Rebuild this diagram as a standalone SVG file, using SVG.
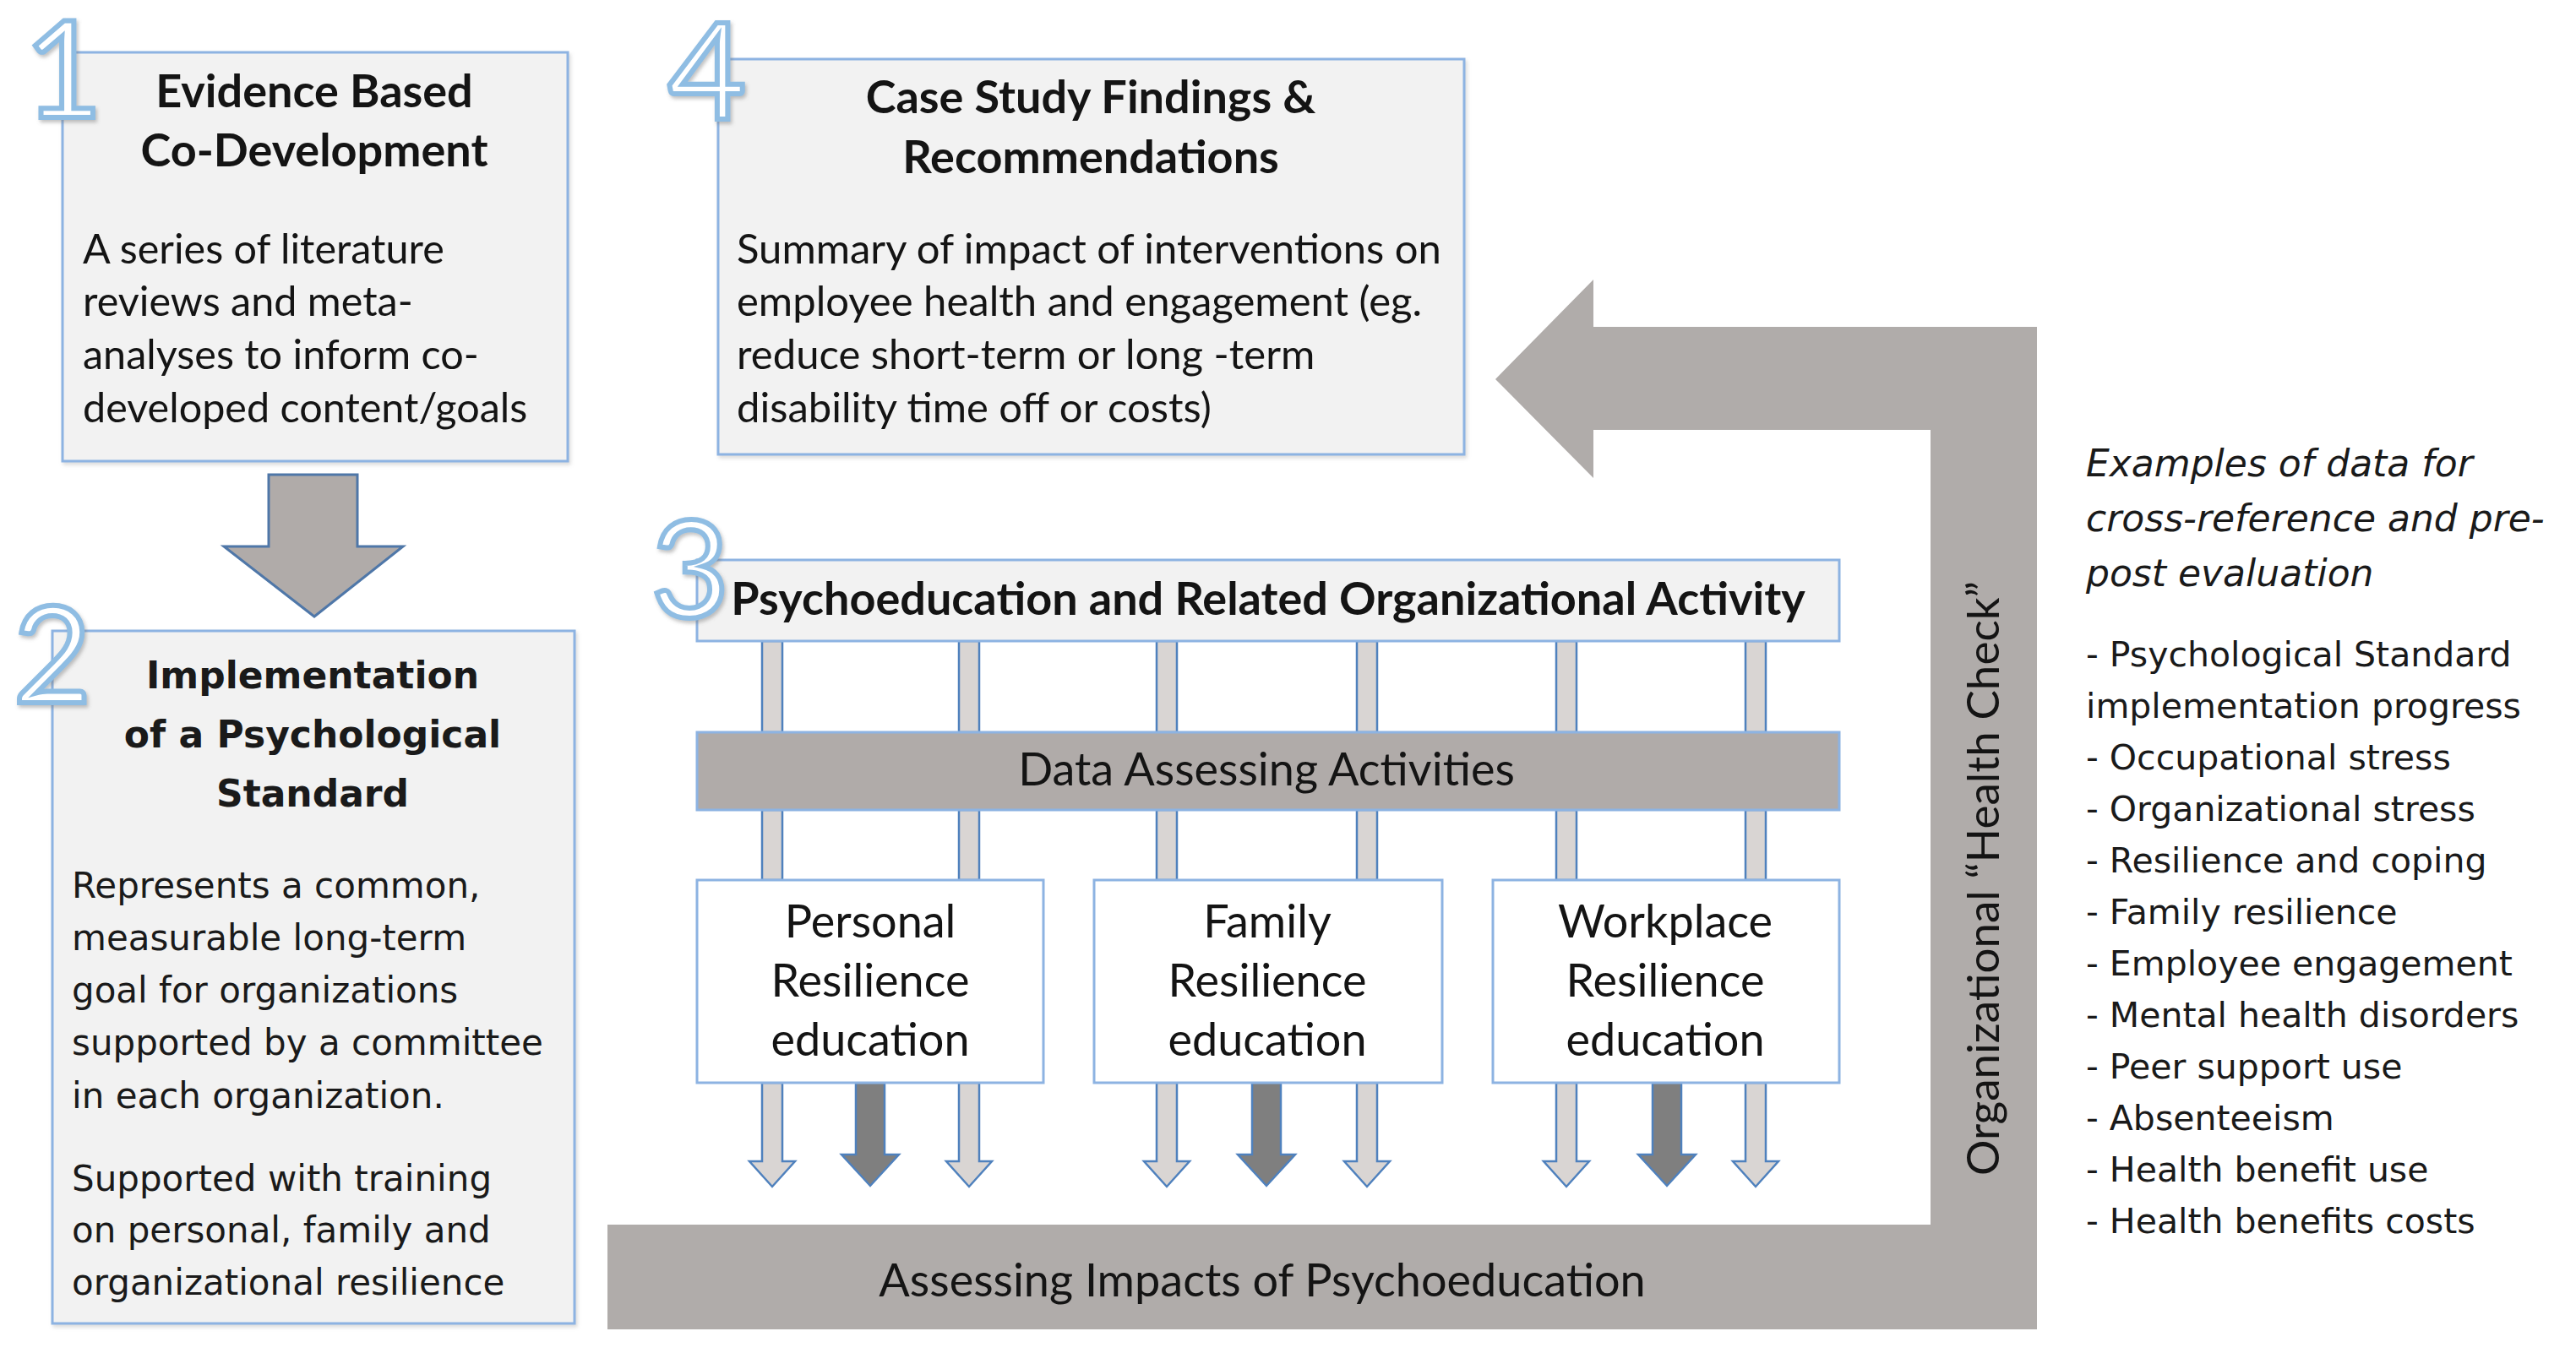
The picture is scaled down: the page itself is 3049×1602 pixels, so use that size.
<svg xmlns="http://www.w3.org/2000/svg" width="3049" height="1602" viewBox="0 0 3049 1602">
<defs>
<filter id="sh" x="-20%" y="-20%" width="140%" height="140%"><feDropShadow dx="2" dy="3" stdDeviation="2" flood-color="#777" flood-opacity="0.45"/></filter>
<filter id="bs" x="-5%" y="-5%" width="110%" height="110%"><feDropShadow dx="2" dy="3" stdDeviation="2" flood-color="#999" flood-opacity="0.35"/></filter>
</defs>
<style>
.box{fill:#f2f2f2;stroke:#8db3e2;stroke-width:3}
.wbox{fill:#ffffff;stroke:#8db3e2;stroke-width:3}
.gbar{fill:#b0aba9;stroke:#8db3e2;stroke-width:3}
.cal{font-family:Lato,"Liberation Sans",sans-serif;fill:#141414}
.ver{font-family:"DejaVu Sans",sans-serif;fill:#1a1a1a}
.num{font-family:Lato,"Liberation Sans",sans-serif;font-size:160px;fill:#ffffff;stroke:#8fbde3;stroke-width:6;text-anchor:middle}
.la{fill:#d9d5d3;stroke:#4f81bd;stroke-width:2.5}
.da{fill:#7f7f7f;stroke:#4f81bd;stroke-width:2.5}
.big{fill:#b0acaa}
</style>
<rect width="3049" height="1602" fill="#ffffff"/>

<g id="feedback-loop">
<polygon class="big" points="1770,449 1886,331 1886,387 2411,387 2411,1574 719,1574 719,1450 2285,1450 2285,509 1886,509 1886,566"/>
<text class="cal" x="1494" y="1535" font-size="54" text-anchor="middle">Assessing Impacts of Psychoeducation</text>
<text class="cal" transform="translate(2366,1040) rotate(-90)" font-size="53" text-anchor="middle">Organizational “Health Check”</text>
</g>

<g id="connectors">
<path d="M318,562 H423 V647 H477 L372,730 L265,647 H318 Z" fill="#b0aba9" stroke="#4f77a8" stroke-width="3" stroke-linejoin="miter"/>
<g id="bar-links">
<rect class="la" x="902" y="759" width="24" height="108"/>
<rect class="la" x="1135" y="759" width="24" height="108"/>
<rect class="la" x="1369" y="759" width="24" height="108"/>
<rect class="la" x="1606" y="759" width="24" height="108"/>
<rect class="la" x="1842" y="759" width="24" height="108"/>
<rect class="la" x="2066" y="759" width="24" height="108"/>
<rect class="la" x="902" y="959" width="24" height="83"/>
<rect class="la" x="1135" y="959" width="24" height="83"/>
<rect class="la" x="1369" y="959" width="24" height="83"/>
<rect class="la" x="1606" y="959" width="24" height="83"/>
<rect class="la" x="1842" y="959" width="24" height="83"/>
<rect class="la" x="2066" y="959" width="24" height="83"/>
</g>
<g id="out-arrows">
<path class="la" d="M902,1282 V1375 H887 L914,1405 L941,1375 H926 V1282 Z"/>
<path class="da" d="M1013,1282 V1367 H996 L1030,1404 L1064,1367 H1047 V1282 Z"/>
<path class="la" d="M1135,1282 V1375 H1120 L1147,1405 L1174,1375 H1159 V1282 Z"/>
<path class="la" d="M1369,1282 V1375 H1354 L1381,1405 L1408,1375 H1393 V1282 Z"/>
<path class="da" d="M1482,1282 V1367 H1465 L1499,1404 L1533,1367 H1516 V1282 Z"/>
<path class="la" d="M1606,1282 V1375 H1591 L1618,1405 L1645,1375 H1630 V1282 Z"/>
<path class="la" d="M1842,1282 V1375 H1827 L1854,1405 L1881,1375 H1866 V1282 Z"/>
<path class="da" d="M1956,1282 V1367 H1939 L1973,1404 L2007,1367 H1990 V1282 Z"/>
<path class="la" d="M2066,1282 V1375 H2051 L2078,1405 L2105,1375 H2090 V1282 Z"/>
</g>
</g>

<g id="node1">
<rect class="box" x="74" y="62" width="598" height="484" filter="url(#bs)"/>
<text class="cal" font-size="54" font-weight="bold" text-anchor="middle"><tspan x="372" y="127">Evidence Based</tspan><tspan x="372" y="197">Co-Development</tspan></text>
<text class="cal" font-size="48.5"><tspan x="98" y="312">A series of literature</tspan><tspan x="98" y="374">reviews and meta-</tspan><tspan x="98" y="437">analyses to inform co-</tspan><tspan x="98" y="500">developed content/goals</tspan></text>
<text class="num" x="75" y="139" filter="url(#sh)">1</text>
</g>

<g id="node2">
<rect class="box" x="62" y="747" width="618" height="820" filter="url(#bs)"/>
<text class="ver" font-size="44" font-weight="bold" text-anchor="middle"><tspan x="370" y="815">Implementation</tspan><tspan x="370" y="885">of a Psychological</tspan><tspan x="370" y="955">Standard</tspan></text>
<text class="ver" font-size="42"><tspan x="85" y="1063">Represents a common,</tspan><tspan x="85" y="1125">measurable long-term</tspan><tspan x="85" y="1187">goal for organizations</tspan><tspan x="85" y="1249">supported by a committee</tspan><tspan x="85" y="1312">in each organization.</tspan><tspan x="85" y="1410">Supported with training</tspan><tspan x="85" y="1471">on personal, family and</tspan><tspan x="85" y="1533">organizational resilience</tspan></text>
<text class="num" x="62" y="832" filter="url(#sh)">2</text>
</g>

<g id="node4">
<rect class="box" x="850" y="70" width="883" height="468" filter="url(#bs)"/>
<text class="cal" font-size="54" font-weight="bold" text-anchor="middle"><tspan x="1291" y="134">Case Study Findings &amp;</tspan><tspan x="1291" y="205">Recommendations</tspan></text>
<text class="cal" font-size="49"><tspan x="872" y="312">Summary of impact of interventions on</tspan><tspan x="872" y="374">employee health and engagement (eg.</tspan><tspan x="872" y="437">reduce short-term or long -term</tspan><tspan x="872" y="500">disability time off or costs)</tspan></text>
<text class="num" x="837" y="141" filter="url(#sh)">4</text>
</g>

<g id="node3">
<rect class="box" x="825" y="663" width="1352" height="96"/>
<text class="cal" x="1501" y="728" font-size="54" font-weight="bold" text-anchor="middle">Psychoeducation and Related Organizational Activity</text>
<text class="num" x="817" y="731" filter="url(#sh)">3</text>
</g>

<g id="data-assessing">
<rect class="gbar" x="825" y="867" width="1352" height="92"/>
<text class="cal" x="1499" y="930" font-size="54" text-anchor="middle">Data Assessing Activities</text>
</g>

<g id="personal">
<rect class="wbox" x="825" y="1042" width="410" height="240"/>
<text class="cal" font-size="54" text-anchor="middle"><tspan x="1030" y="1110">Personal</tspan><tspan x="1030" y="1180">Resilience</tspan><tspan x="1030" y="1250">education</tspan></text>
</g>
<g id="family">
<rect class="wbox" x="1295" y="1042" width="412" height="240"/>
<text class="cal" font-size="54" text-anchor="middle"><tspan x="1500" y="1110">Family</tspan><tspan x="1500" y="1180">Resilience</tspan><tspan x="1500" y="1250">education</tspan></text>
</g>
<g id="workplace">
<rect class="wbox" x="1767" y="1042" width="410" height="240"/>
<text class="cal" font-size="54" text-anchor="middle"><tspan x="1971" y="1110">Workplace</tspan><tspan x="1971" y="1180">Resilience</tspan><tspan x="1971" y="1250">education</tspan></text>
</g>

<g id="examples">
<text class="ver" font-size="44" font-style="italic"><tspan x="2469" y="564">Examples of data for</tspan><tspan x="2469" y="629">cross-reference and pre-</tspan><tspan x="2469" y="694">post evaluation</tspan></text>
<text class="ver" font-size="41"><tspan x="2469" y="789">- Psychological Standard</tspan><tspan x="2469" y="850">implementation progress</tspan><tspan x="2469" y="911">- Occupational stress</tspan><tspan x="2469" y="972">- Organizational stress</tspan><tspan x="2469" y="1033">- Resilience and coping</tspan><tspan x="2469" y="1094">- Family resilience</tspan><tspan x="2469" y="1155">- Employee engagement</tspan><tspan x="2469" y="1216">- Mental health disorders</tspan><tspan x="2469" y="1277">- Peer support use</tspan><tspan x="2469" y="1338">- Absenteeism</tspan><tspan x="2469" y="1399">- Health benefit use</tspan><tspan x="2469" y="1460">- Health benefits costs</tspan></text>
</g>
</svg>
